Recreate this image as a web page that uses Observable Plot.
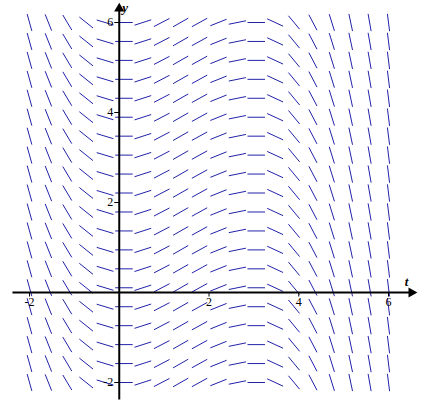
<!DOCTYPE html>
<html><head><meta charset="utf-8">
<script src="https://cdn.jsdelivr.net/npm/d3@7"></script>
<script src="https://cdn.jsdelivr.net/npm/@observablehq/plot@0.6"></script>
<style>body{margin:0;background:#fff;} svg{display:block;}</style>
</head><body><div id="chart"></div>
<script>
// grid columns (t) and rows (y) of the direction field
const tValues = [-2, -1.579, -1.158, -0.737, -0.316, 0.105, 0.526, 0.947, 1.368, 1.789, 2.211, 2.632, 3.053, 3.474, 3.895, 4.316, 4.737, 5.158, 5.579, 6];
const yValues = [-2, -1.579, -1.158, -0.737, -0.316, 0.105, 0.526, 0.947, 1.368, 1.789, 2.211, 2.632, 3.053, 3.474, 3.895, 4.316, 4.737, 5.158, 5.579, 6];
// slope dy/dt read per column (same for every row)
const slopes = [-3.6, -2.5, -1.67, -0.8, -0.3, 0.0, 0.32, 0.52, 0.57, 0.55, 0.4, 0.2, 0.0, -0.46, -1.2, -1.9, -3.2, -4.7, -5.7, -8];
const xTickLabels = [-2, 2, 4, 6];
const yTickLabels = [-2, 2, 4, 6];

const W = 421, H = 401;
const mL = 29, mR = 33, mT = 22, mB = 19;
const kx = (W - mL - mR) / 8, ky = (H - mT - mB) / 8;
const half = 8.75; // half segment length in px

const segs = [];
tValues.forEach((t, i) => {
  const m = slopes[i];
  const th = Math.atan(m * ky / kx);
  const dt = half * Math.cos(th) / kx;
  yValues.forEach(y => {
    segs.push({x1: t - dt, y1: y - m * dt, x2: t + dt, y2: y + m * dt});
  });
});

const axes = [
  {x1: -2.38, y1: 0, x2: 6.5, y2: 0},
  {x1: 0, y1: -2.38, x2: 0, y2: 6.3}
];
const xt = xTickLabels.map(v => ({x1: v, y1: 0, x2: v, y2: -4 / ky}));
const yt = yTickLabels.map(v => ({x1: 0, y1: v, x2: -5 / kx, y2: v}));

const font = "Liberation Serif, Times New Roman, serif";
const chart = Plot.plot({
  width: W, height: H,
  marginLeft: mL, marginRight: mR, marginTop: mT, marginBottom: mB,
  x: {domain: [-2, 6], axis: null},
  y: {domain: [-2, 6], axis: null},
  style: {background: "white", fontFamily: font},
  marks: [
    Plot.link(segs, {x1: "x1", y1: "y1", x2: "x2", y2: "y2", stroke: "#2222aa", strokeWidth: 1}),
    Plot.link(axes, {x1: "x1", y1: "y1", x2: "x2", y2: "y2", stroke: "black", strokeWidth: 2}),
    Plot.link(xt, {x1: "x1", y1: "y1", x2: "x2", y2: "y2", stroke: "black", strokeWidth: 1}),
    Plot.link(yt, {x1: "x1", y1: "y1", x2: "x2", y2: "y2", stroke: "black", strokeWidth: 1}),
    Plot.dot([{x: 6.512, y: 0}], {x: "x", y: "y", symbol: "triangle", r: 3.8, rotate: 90, fill: "black", stroke: "none"}),
    Plot.dot([{x: 0, y: 6.31}], {x: "x", y: "y", symbol: "triangle", r: 3.8, fill: "black", stroke: "none"}),
    Plot.text(xTickLabels, {x: d => d, y: () => 0, text: d => String(d), dy: 5, lineAnchor: "top", fontSize: 12, fontFamily: font, fill: "black"}),
    Plot.text(yTickLabels, {x: () => 0, y: d => d, text: d => String(d), dx: -6, textAnchor: "end", lineAnchor: "middle", fontSize: 12, fontFamily: font, fill: "black"}),
    Plot.text(["t"], {x: () => 6.4, y: () => 0, text: d => d, dy: -7, lineAnchor: "bottom", fontSize: 13, fontStyle: "italic", fontWeight: "bold", fontFamily: font, fill: "black"}),
    Plot.text(["y"], {x: () => 0, y: () => 6.3, text: d => d, dx: 3, dy: 3, textAnchor: "start", lineAnchor: "bottom", fontSize: 13, fontStyle: "italic", fontWeight: "bold", fontFamily: font, fill: "black"})
  ]
});
document.getElementById("chart").appendChild(chart);
</script>
</body></html>
